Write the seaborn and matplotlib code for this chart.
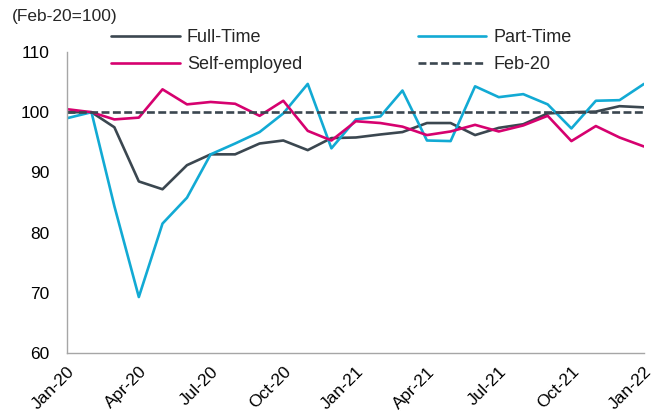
import pandas as pd
import seaborn as sns
import matplotlib.pyplot as plt
import matplotlib.dates as mdates

# monthly index, Feb-20 = 100
months = pd.date_range('2020-01-01', '2022-01-01', freq='MS')

full_time = [100.0, 100.0, 97.5, 88.5, 87.2, 91.2, 93.0, 93.0, 94.8, 95.3, 93.7, 95.7,
             95.8, 96.3, 96.7, 98.2, 98.2, 96.2, 97.4, 98.0, 99.8, 100.0, 100.1, 101.0, 100.8]
part_time = [99.0, 100.0, 84.4, 69.3, 81.5, 85.8, 93.0, 94.8, 96.7, 99.8, 104.7, 94.0,
             98.8, 99.3, 103.6, 95.3, 95.2, 104.3, 102.5, 103.0, 101.3, 97.3, 101.9, 102.0, 104.7]
self_employed = [100.5, 100.0, 98.8, 99.1, 103.8, 101.3, 101.7, 101.4, 99.4, 101.9, 96.9, 95.3,
                 98.5, 98.2, 97.6, 96.2, 96.8, 97.9, 96.8, 97.8, 99.4, 95.2, 97.7, 95.8, 94.3]
feb20 = [100.0] * len(months)

series = ['Full-Time', 'Part-Time', 'Self-employed', 'Feb-20']
colors = ['#3b4750', '#12aad4', '#d6016f', '#3b4750']

df = pd.DataFrame({
    'date': list(months) * 4,
    'value': full_time + part_time + self_employed + feb20,
    'series': sum([[s] * len(months) for s in series], []),
})

sns.set_style('white')
plt.rcParams['font.family'] = ['Liberation Sans', 'DejaVu Sans']

fig = plt.figure(figsize=(6.62, 4.17), dpi=100)
ax = fig.add_axes([67/662, 1 - 353/417, (644-67)/662, 301/417])

sns.lineplot(data=df, x='date', y='value', hue='series', style='series',
             palette=dict(zip(series, colors)),
             dashes={'Full-Time': '', 'Part-Time': '', 'Self-employed': '', 'Feb-20': (3, 1.3)},
             linewidth=1.9, ax=ax, legend=False)

ax.set_xlim(months[0], months[-1])
ax.set_ylim(60, 110)
ax.set_yticks(range(60, 111, 10))
ax.set_xticks(months[::3])
ax.xaxis.set_major_formatter(mdates.DateFormatter('%b-%y'))
for lbl in ax.get_xticklabels():
    lbl.set_rotation(45)
    lbl.set_ha('right')
    lbl.set_rotation_mode('anchor')
ax.set_xlabel('')
ax.set_ylabel('')
ax.tick_params(axis='both', labelsize=12.5, colors='#a6a6a6', labelcolor='black',
               length=4, width=1, direction='out')
ax.tick_params(axis='y', pad=8.5)
ax.tick_params(axis='x', pad=4)
for side in ['top', 'right']:
    ax.spines[side].set_visible(False)
for side in ['left', 'bottom']:
    ax.spines[side].set_color('#a6a6a6')
    ax.spines[side].set_linewidth(1)

fig.text(12/662, 1 - 17/417, '(Feb-20=100)', fontsize=12.5, va='center', ha='left')

handles = [plt.Line2D([], [], color=c, lw=1.9, ls='--' if s == 'Feb-20' else '-')
           for s, c in zip(series, colors)]
handles[3].set_dashes((3, 1.3))
# reorder so columns read Full-Time/Self-employed | Part-Time/Feb-20
order = [0, 2, 1, 3]
fig.legend([handles[i] for i in order], [series[i] for i in order],
           loc='upper left', bbox_to_anchor=(111/662, 1 - 29/417), ncol=2,
           frameon=False, fontsize=13, borderpad=0, borderaxespad=0,
           handlelength=3.8, handletextpad=0.4, columnspacing=6.4, labelspacing=0.56)

fig.savefig('out.png', dpi=100)
